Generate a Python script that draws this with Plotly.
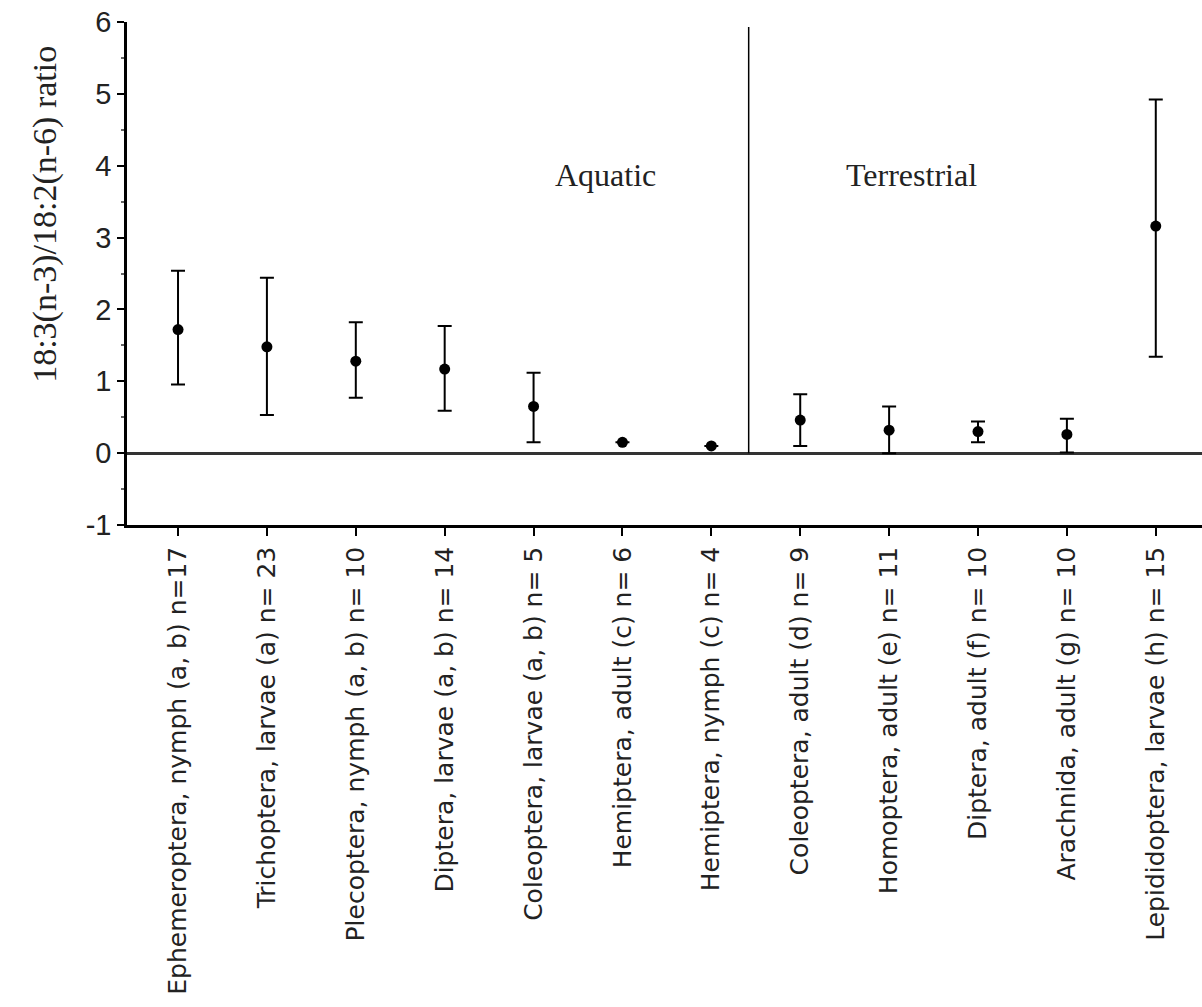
import plotly.graph_objects as go

categories = [
    "Ephemeroptera, nymph (a, b) n=17",
    "Trichoptera, larvae (a) n= 23",
    "Plecoptera, nymph (a, b) n= 10",
    "Diptera, larvae (a, b) n= 14",
    "Coleoptera, larvae (a, b) n= 5",
    "Hemiptera, adult (c) n= 6",
    "Hemiptera, nymph (c) n= 4",
    "Coleoptera, adult (d) n= 9",
    "Homoptera, adult (e) n= 11",
    "Diptera, adult (f) n= 10",
    "Arachnida, adult (g) n= 10",
    "Lepididoptera, larvae (h) n= 15",
]
means = [1.72, 1.48, 1.28, 1.17, 0.65, 0.15, 0.10, 0.46, 0.32, 0.30, 0.26, 3.16]
upper = [2.54, 2.44, 1.82, 1.77, 1.12, 0.15, 0.10, 0.82, 0.65, 0.44, 0.48, 4.92]
lower = [0.955, 0.53, 0.77, 0.59, 0.15, 0.15, 0.10, 0.10, 0.00, 0.15, 0.01, 1.34]
y_ticks = [-1, 0, 1, 2, 3, 4, 5, 6]
y_ticktext = ["-1", "0", "1", "2", "3", "4", "5", "6"]

err_plus = [(u - m) if u > m else None for u, m in zip(upper, means)]
err_minus = [(m - l) if m > l else None for m, l in zip(means, lower)]

fig = go.Figure()
fig.add_trace(go.Scatter(
    x=categories, y=means, mode="markers",
    marker=dict(color="black", size=11),
    error_y=dict(type="data", symmetric=False, array=err_plus, arrayminus=err_minus,
                 color="black", thickness=2, width=7),
    showlegend=False,
))

# divider between aquatic and terrestrial
fig.add_shape(type="line", xref="x", yref="y", x0=6.42, x1=6.42, y0=0, y1=5.93,
              line=dict(color="black", width=1.5))

fig.add_annotation(x=4.81, y=3.87, xref="x", yref="y", text="Aquatic", showarrow=False,
                   font=dict(family="Liberation Serif", size=32, color="#222"))
fig.add_annotation(x=8.25, y=3.87, xref="x", yref="y", text="Terrestrial", showarrow=False,
                   font=dict(family="Liberation Serif", size=32, color="#222"))
fig.add_annotation(x=-0.0763, y=3.33, xref="paper", yref="y", xanchor="center", yanchor="middle",
                   text="18:3(n-3)/18:2(n-6) ratio", textangle=-90, showarrow=False,
                   font=dict(family="Liberation Serif", size=34, color="#222"))

fig.update_xaxes(
    type="category", range=[-0.574, 11.52], automargin=False,
    showline=True, linecolor="black", linewidth=2.5, mirror=False,
    ticks="outside", ticklen=8, tickwidth=2, tickcolor="black",
    tickangle=-90, tickfont=dict(family="DejaVu Sans", size=25, color="#222"),
    ticklabelstandoff=1,
    showgrid=False,
)
fig.update_yaxes(
    range=[-1, 6], tickvals=y_ticks, ticktext=y_ticktext, automargin=False,
    showline=True, linecolor="black", linewidth=2.5,
    ticks="outside", ticklen=7, tickwidth=1.5, tickcolor="black",
    minor=dict(dtick=0.5, ticks="outside", ticklen=3, tickcolor="#666", tickwidth=1.5),
    tickfont=dict(family="Liberation Sans", size=29, color="#222"),
    showgrid=False, zeroline=True, zerolinecolor="#333", zerolinewidth=2.5,
)
fig.update_layout(
    width=1202, height=1007,
    margin=dict(l=127, r=0, t=22, b=482, autoexpand=False),
    plot_bgcolor="white", paper_bgcolor="white",
)
fig.write_html("out.html", config={"displayModeBar": False},
               post_script="document.body.style.margin='0';document.body.style.overflow='hidden';")
